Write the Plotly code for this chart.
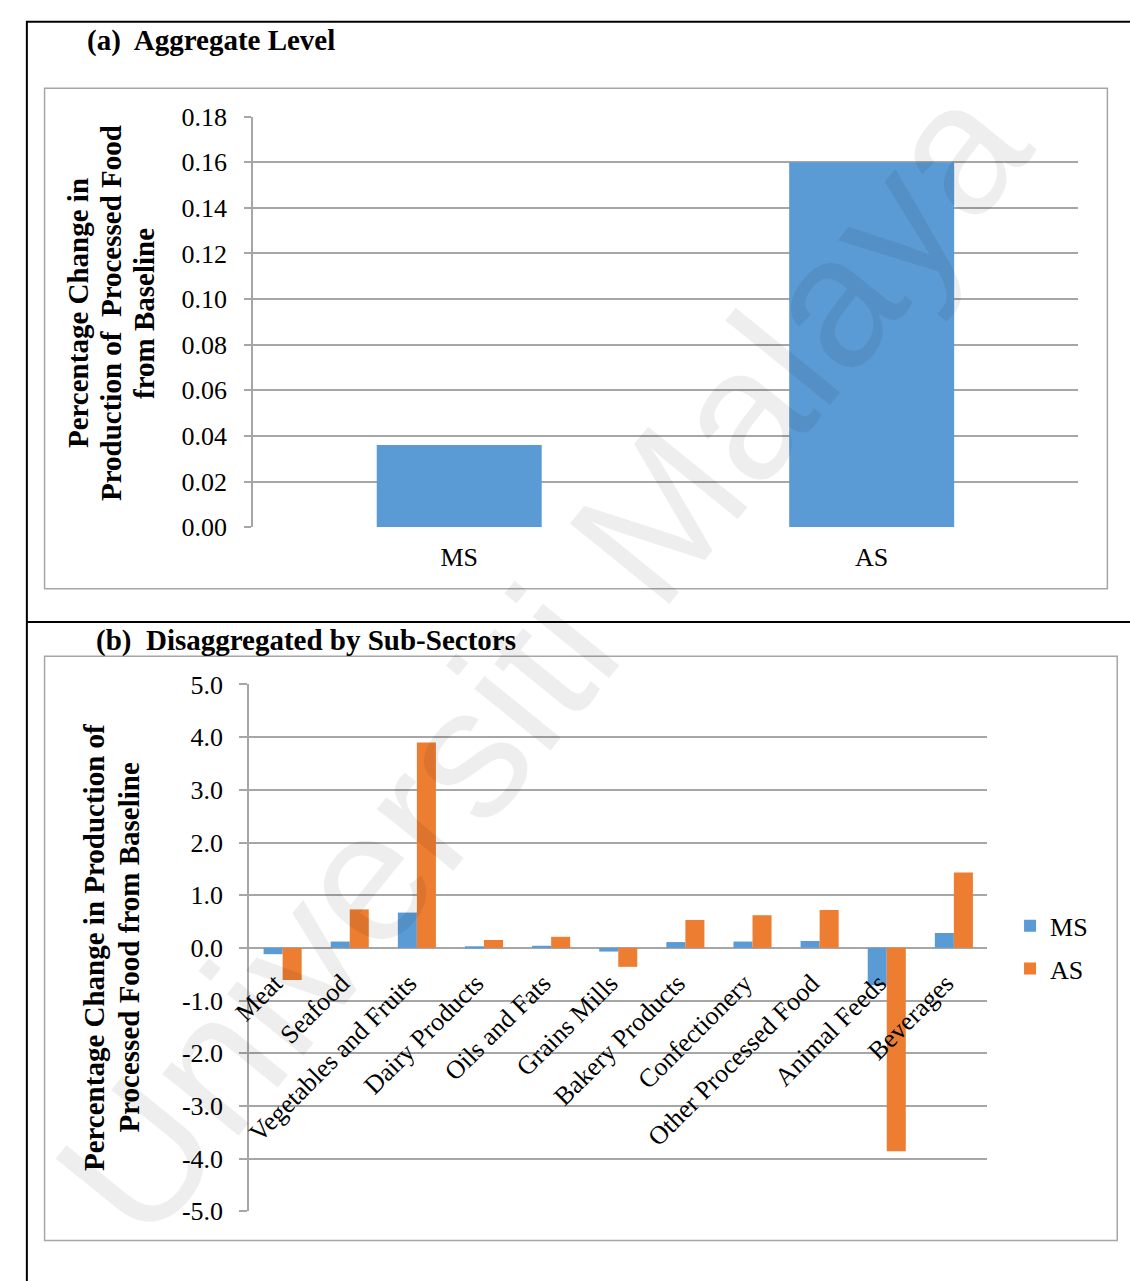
import plotly.graph_objects as go

# ---------------- data ----------------
agg_categories = ["MS", "AS"]
agg_values = [0.036, 0.160]

sub_sectors = ["Meat", "Seafood", "Vegetables and Fruits", "Dairy Products",
               "Oils and Fats", "Grains Mills", "Bakery Products", "Confectionery",
               "Other Processed Food", "Animal Feeds", "Beverages"]
ms_values = [-0.12, 0.12, 0.67, 0.03, 0.04, -0.07, 0.11, 0.12, 0.13, -0.71, 0.28]
as_values = [-0.61, 0.73, 3.90, 0.15, 0.21, -0.36, 0.53, 0.62, 0.72, -3.86, 1.43]

agg_tickvals = [0.00, 0.02, 0.04, 0.06, 0.08, 0.10, 0.12, 0.14, 0.16, 0.18]
agg_ticktext = ["0.00", "0.02", "0.04", "0.06", "0.08", "0.10", "0.12", "0.14", "0.16", "0.18"]
sub_tickvals = [-5, -4, -3, -2, -1, 0, 1, 2, 3, 4, 5]
sub_ticktext = ["-5.0", "-4.0", "-3.0", "-2.0", "-1.0", "0.0", "1.0", "2.0", "3.0", "4.0", "5.0"]

ytitle_a_lines = ["Percentage Change in", "Production of\u00a0 Processed Food", "from Baseline"]
ytitle_b_lines = ["Percentage Change in Production of", "Processed Food from Baseline"]

# ---------------- layout helpers ----------------
W, H = 1130, 1281
def px(x):
    return x / W
def py(y):
    return 1 - y / H

BLUE = "#5B9BD5"
ORANGE = "#ED7D31"
GRID = "#A6A6A6"
SERIF = "Liberation Serif, Times New Roman, serif"

ya_range = [0, 0.18]
yb_range = [-5, 5]
ya_dom = [py(525), py(105)]
yb_dom = [py(1225), py(686)]
# paper position of the value 0 on the lower panel's value axis
zero_pos = yb_dom[0] + (0 - yb_range[0]) / (yb_range[1] - yb_range[0]) * (yb_dom[1] - yb_dom[0])

fig = go.Figure()

fig.add_trace(go.Bar(x=agg_categories, y=agg_values, marker=dict(color=BLUE, line=dict(width=0)),
                     width=0.4, showlegend=False, xaxis="x", yaxis="y", name="Aggregate"))

fig.add_trace(go.Bar(x=sub_sectors, y=ms_values, name="MS", marker=dict(color=BLUE, line=dict(width=0)),
                     xaxis="x2", yaxis="y2", legendgroup="MS"))
fig.add_trace(go.Bar(x=sub_sectors, y=as_values, name="AS", marker=dict(color=ORANGE, line=dict(width=0)),
                     xaxis="x2", yaxis="y2", legendgroup="AS"))

tickfont = dict(family=SERIF, size=26, color="black")

fig.update_layout(
    width=W, height=H,
    margin=dict(l=0, r=0, t=0, b=0),
    paper_bgcolor="white", plot_bgcolor="white",
    barmode="group", bargap=0.433, bargroupgap=0,
    xaxis=dict(domain=[px(238), px(1077)], anchor="y", type="category",
               showgrid=False, showline=False, zeroline=False, ticks="",
               tickfont=tickfont, ticklabelstandoff=12),
    yaxis=dict(domain=ya_dom, anchor="x", range=ya_range,
               tickvals=agg_tickvals, ticktext=agg_ticktext,
               showgrid=True, gridcolor=GRID, gridwidth=1.5,
               showline=True, linecolor=GRID, linewidth=1.5,
               ticks="outside", ticklen=7, tickcolor=GRID, tickwidth=1.5,
               zeroline=False, tickfont=tickfont, ticklabelstandoff=12),
    xaxis2=dict(domain=[px(234), px(985)], anchor="free", position=zero_pos, type="category",
                showgrid=False, showline=False, zeroline=False, ticks="",
                tickangle=-45, tickfont=tickfont, ticklabelstandoff=14, ticklabelshift=-8),
    yaxis2=dict(domain=yb_dom, anchor="x2", range=yb_range,
                tickvals=sub_tickvals, ticktext=sub_ticktext,
                showgrid=True, gridcolor=GRID, gridwidth=1.5,
                showline=True, linecolor=GRID, linewidth=1.5,
                ticks="outside", ticklen=8, tickcolor=GRID, tickwidth=1.5,
                zeroline=False, tickfont=tickfont, ticklabelstandoff=11),
    legend=dict(x=px(1008), y=py(955), xanchor="left", yanchor="middle",
                font=dict(family=SERIF, size=26, color="black"),
                traceorder="grouped", tracegroupgap=6, bgcolor="rgba(0,0,0,0)"),
)

# frames
shapes = [
    dict(type="rect", xref="paper", yref="paper", x0=px(8), x1=px(1160), y0=py(8), y1=py(1320),
         line=dict(color="black", width=2)),
    dict(type="line", xref="paper", yref="paper", x0=px(8), x1=px(1160), y0=py(622), y1=py(622),
         line=dict(color="black", width=2)),
    dict(type="rect", xref="paper", yref="paper", x0=px(26), x1=px(1107), y0=py(76), y1=py(588),
         line=dict(color=GRID, width=1.5)),
    dict(type="rect", xref="paper", yref="paper", x0=px(26), x1=px(1117), y0=py(657), y1=py(1255),
         line=dict(color=GRID, width=1.5)),
]
fig.update_layout(shapes=shapes)

bold = dict(family=SERIF, size=29, color="black")
ytfont = dict(family=SERIF, size=29, color="black")
annotations = [
    dict(text="<b>(a)\u00a0 Aggregate Level</b>", xref="paper", yref="paper", x=px(67), y=py(27),
         xanchor="left", yanchor="middle", showarrow=False, font=bold),
    dict(text="<b>(b)\u00a0 Disaggregated by Sub-Sectors</b>", xref="paper", yref="paper", x=px(76), y=py(641),
         xanchor="left", yanchor="middle", showarrow=False, font=bold),
]
for line_text, xc in zip(ytitle_a_lines, [60, 93.5, 127]):
    annotations.append(dict(text="<b>" + line_text + "</b>", xref="paper", yref="paper",
                            x=px(xc), y=py(306), textangle=-90, xanchor="center", yanchor="middle",
                            showarrow=False, font=ytfont))
for line_text, xc in zip(ytitle_b_lines, [77, 112]):
    annotations.append(dict(text="<b>" + line_text + "</b>", xref="paper", yref="paper",
                            x=px(xc), y=py(955), textangle=-90, xanchor="center", yanchor="middle",
                            showarrow=False, font=ytfont))
annotations.append(dict(text="Universiti Malaya", xref="paper", yref="paper", x=px(531), y=py(660),
                        textangle=-51, xanchor="center", yanchor="middle", showarrow=False,
                        font=dict(family="Liberation Sans, Arial, sans-serif", size=186,
                                  color="rgba(0,0,0,0.065)")))
fig.update_layout(annotations=annotations)

fig.write_html("out.html")
